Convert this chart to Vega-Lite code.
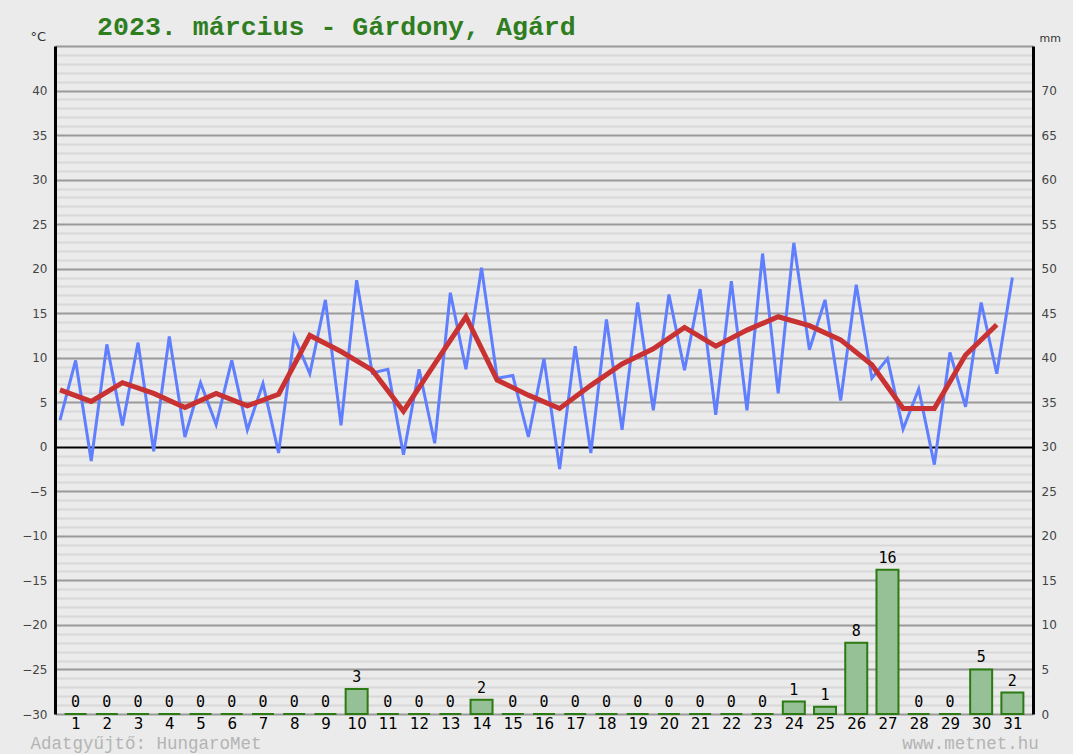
{
  "$schema": "https://vega.github.io/schema/vega-lite/v6.json",
  "width": 978,
  "height": 668,
  "autosize": {"type": "none"},
  "padding": {"left": 55, "top": 46, "right": 40, "bottom": 40},
  "background": "#ebebeb",
  "config": {"view": {"stroke": null}},
  "title": {
    "text": "2023. március - Gárdony, Agárd",
    "anchor": "start",
    "frame": "group",
    "dx": 42,
    "dy": 21,
    "offset": 10,
    "font": "Liberation Mono",
    "fontSize": 26.6,
    "fontWeight": "bold",
    "color": "#2f7d1f"
  },
  "data": {
    "values": [
      {"day": 1, "tmin": 3.0, "tmax": 9.7, "tmean": 6.4, "prec": 0},
      {"day": 2, "tmin": -1.6, "tmax": 11.5, "tmean": 5.1, "prec": 0},
      {"day": 3, "tmin": 2.4, "tmax": 11.7, "tmean": 7.2, "prec": 0},
      {"day": 4, "tmin": -0.5, "tmax": 12.4, "tmean": 6.0, "prec": 0},
      {"day": 5, "tmin": 1.1, "tmax": 7.2, "tmean": 4.4, "prec": 0},
      {"day": 6, "tmin": 2.5, "tmax": 9.7, "tmean": 6.0, "prec": 0},
      {"day": 7, "tmin": 1.9, "tmax": 7.1, "tmean": 4.6, "prec": 0},
      {"day": 8, "tmin": -0.7, "tmax": 12.4, "tmean": 5.9, "prec": 0},
      {"day": 9, "tmin": 8.2, "tmax": 16.5, "tmean": 12.5, "prec": 0},
      {"day": 10, "tmin": 2.4, "tmax": 18.7, "tmean": 10.7, "prec": 2.8},
      {"day": 11, "tmin": 8.3, "tmax": 8.7, "tmean": 8.6, "prec": 0},
      {"day": 12, "tmin": -0.9, "tmax": 8.7, "tmean": 4.0, "prec": 0},
      {"day": 13, "tmin": 0.4, "tmax": 17.3, "tmean": 9.3, "prec": 0},
      {"day": 14, "tmin": 8.7, "tmax": 20.1, "tmean": 14.6, "prec": 1.6},
      {"day": 15, "tmin": 7.7, "tmax": 8.0, "tmean": 7.5, "prec": 0},
      {"day": 16, "tmin": 1.1, "tmax": 9.9, "tmean": 5.8, "prec": 0},
      {"day": 17, "tmin": -2.5, "tmax": 11.3, "tmean": 4.3, "prec": 0},
      {"day": 18, "tmin": -0.7, "tmax": 14.3, "tmean": 6.9, "prec": 0},
      {"day": 19, "tmin": 1.9, "tmax": 16.2, "tmean": 9.3, "prec": 0},
      {"day": 20, "tmin": 4.1, "tmax": 17.1, "tmean": 11.0, "prec": 0},
      {"day": 21, "tmin": 8.6, "tmax": 17.7, "tmean": 13.4, "prec": 0},
      {"day": 22, "tmin": 3.6, "tmax": 18.6, "tmean": 11.3, "prec": 0},
      {"day": 23, "tmin": 4.1, "tmax": 21.7, "tmean": 13.1, "prec": 0},
      {"day": 24, "tmin": 6.0, "tmax": 22.9, "tmean": 14.6, "prec": 1.4},
      {"day": 25, "tmin": 10.9, "tmax": 16.5, "tmean": 13.6, "prec": 0.8},
      {"day": 26, "tmin": 5.2, "tmax": 18.2, "tmean": 12.0, "prec": 8.0},
      {"day": 27, "tmin": 7.7, "tmax": 9.9, "tmean": 9.2, "prec": 16.2},
      {"day": 28, "tmin": 2.0, "tmax": 6.5, "tmean": 4.3, "prec": 0},
      {"day": 29, "tmin": -2.0, "tmax": 10.6, "tmean": 4.3, "prec": 0},
      {"day": 30, "tmin": 4.5, "tmax": 16.2, "tmean": 10.3, "prec": 5.0},
      {"day": 31, "tmin": 8.2, "tmax": 19.0, "tmean": 13.7, "prec": 2.4}
    ]
  },
  "layer": [
    {
      "layer": [
        {
          "transform": [
            {"fold": ["tmin", "tmax"], "as": ["kind", "temp"]},
            {"calculate": "datum.kind === 'tmin' ? datum.day - 0.5 : datum.day", "as": "t"}
          ],
          "mark": {"type": "line", "color": "#5f7fff", "strokeWidth": 3},
          "encoding": {
            "x": {
              "field": "t",
              "type": "quantitative",
              "scale": {"domain": [0.5, 31.5], "nice": false, "zero": false},
              "axis": {
                "values": [1,2,3,4,5,6,7,8,9,10,11,12,13,14,15,16,17,18,19,20,21,22,23,24,25,26,27,28,29,30,31],
                "tickCount": 100,
                "format": "d",
                "labelFont": "DejaVu Sans",
                "labelFontSize": 15,
                "labelColor": "#000000",
                "labelPadding": 2,
                "labelOverlap": false,
                "ticks": false,
                "domain": false,
                "grid": false,
                "title": "Adatgyűjtő: HungaroMet\u00a0\u00a0\u00a0\u00a0\u00a0\u00a0\u00a0\u00a0\u00a0\u00a0\u00a0\u00a0\u00a0\u00a0\u00a0\u00a0\u00a0\u00a0\u00a0\u00a0\u00a0\u00a0\u00a0\u00a0\u00a0\u00a0\u00a0\u00a0\u00a0\u00a0\u00a0\u00a0\u00a0\u00a0\u00a0\u00a0\u00a0\u00a0\u00a0\u00a0\u00a0\u00a0\u00a0\u00a0\u00a0\u00a0\u00a0\u00a0\u00a0\u00a0\u00a0\u00a0\u00a0\u00a0\u00a0\u00a0\u00a0\u00a0\u00a0\u00a0\u00a0www.metnet.hu",
                "titleFont": "Liberation Mono",
                "titleFontSize": 17.5,
                "titleFontWeight": "normal",
                "titleColor": "#b4b4b4",
                "titleX": -25,
                "titleY": 34,
                "titleAlign": "left",
                "titleAnchor": "start",
                "titleBaseline": "alphabetic"
              }
            },
            "y": {
              "field": "temp",
              "type": "quantitative",
              "scale": {"domain": [-30, 45], "nice": false, "zero": false},
              "axis": {
                "orient": "left",
                "values": [-30,-29,-28,-27,-26,-25,-24,-23,-22,-21,-20,-19,-18,-17,-16,-15,-14,-13,-12,-11,-10,-9,-8,-7,-6,-5,-4,-3,-2,-1,0,1,2,3,4,5,6,7,8,9,10,11,12,13,14,15,16,17,18,19,20,21,22,23,24,25,26,27,28,29,30,31,32,33,34,35,36,37,38,39,40,41,42,43,44,45],
                "tickCount": 200,
                "format": "d",
                "labelExpr": "datum.value % 5 === 0 && datum.value < 45 ? datum.label : ''",
                "labelOverlap": false,
                "labelFont": "DejaVu Sans",
                "labelFontSize": 12,
                "labelColor": "#444444",
                "labelPadding": 8,
                "ticks": false,
                "domainColor": "#000000",
                "domainWidth": 3,
                "grid": true,
                "gridWidth": 2,
                "gridOpacity": 1,
                "gridColor": {
                  "condition": [
                    {"test": "datum.value === 0", "value": "#000000"},
                    {"test": "datum.value % 5 === 0", "value": "#9a9a9a"}
                  ],
                  "value": "#d8d8d8"
                },
                "title": "°C",
                "titleAngle": 0,
                "titleX": -25,
                "titleY": -3,
                "titleAlign": "left",
                "titleBaseline": "bottom",
                "titleFont": "DejaVu Sans",
                "titleFontSize": 13,
                "titleFontWeight": "normal",
                "titleColor": "#333333"
              }
            },
            "order": {"field": "t", "type": "quantitative"}
          }
        },
        {
          "transform": [
            {"calculate": "datum.day - 0.5", "as": "tm"}
          ],
          "mark": {"type": "line", "color": "#c83232", "strokeWidth": 5},
          "encoding": {
            "x": {"field": "tm", "type": "quantitative"},
            "y": {"field": "tmean", "type": "quantitative"},
            "order": {"field": "tm", "type": "quantitative"}
          }
        }
      ]
    },
    {
      "layer": [
        {
          "mark": {"type": "bar", "orient": "vertical", "size": 22, "fill": "#96c096", "stroke": "#2b7a12", "strokeWidth": 2},
          "encoding": {
            "x": {"field": "day", "type": "quantitative"},
            "y": {
              "field": "prec",
              "type": "quantitative",
              "stack": null,
              "scale": {"domain": [0, 75], "nice": false, "zero": true},
              "axis": {
                "orient": "right",
                "values": [0,5,10,15,20,25,30,35,40,45,50,55,60,65,70],
                "tickCount": 100,
                "format": "d",
                "labelFont": "DejaVu Sans",
                "labelFontSize": 12,
                "labelColor": "#444444",
                "labelPadding": 8,
                "ticks": false,
                "grid": false,
                "domainColor": "#000000",
                "domainWidth": 3,
                "title": "mm",
                "titleAngle": 0,
                "titleX": 6,
                "titleY": -3,
                "titleAlign": "left",
                "titleBaseline": "bottom",
                "titleFont": "DejaVu Sans",
                "titleFontSize": 11,
                "titleFontWeight": "normal",
                "titleColor": "#333333"
              }
            }
          }
        },
        {
          "mark": {"type": "text", "baseline": "middle", "dy": -12, "font": "DejaVu Sans Mono", "fontSize": 15, "color": "#000000"},
          "encoding": {
            "x": {"field": "day", "type": "quantitative"},
            "y": {"field": "prec", "type": "quantitative", "stack": null},
            "text": {"field": "prec", "type": "quantitative", "format": ".0f"}
          }
        }
      ]
    }
  ],
  "resolve": {"scale": {"y": "independent"}}
}
